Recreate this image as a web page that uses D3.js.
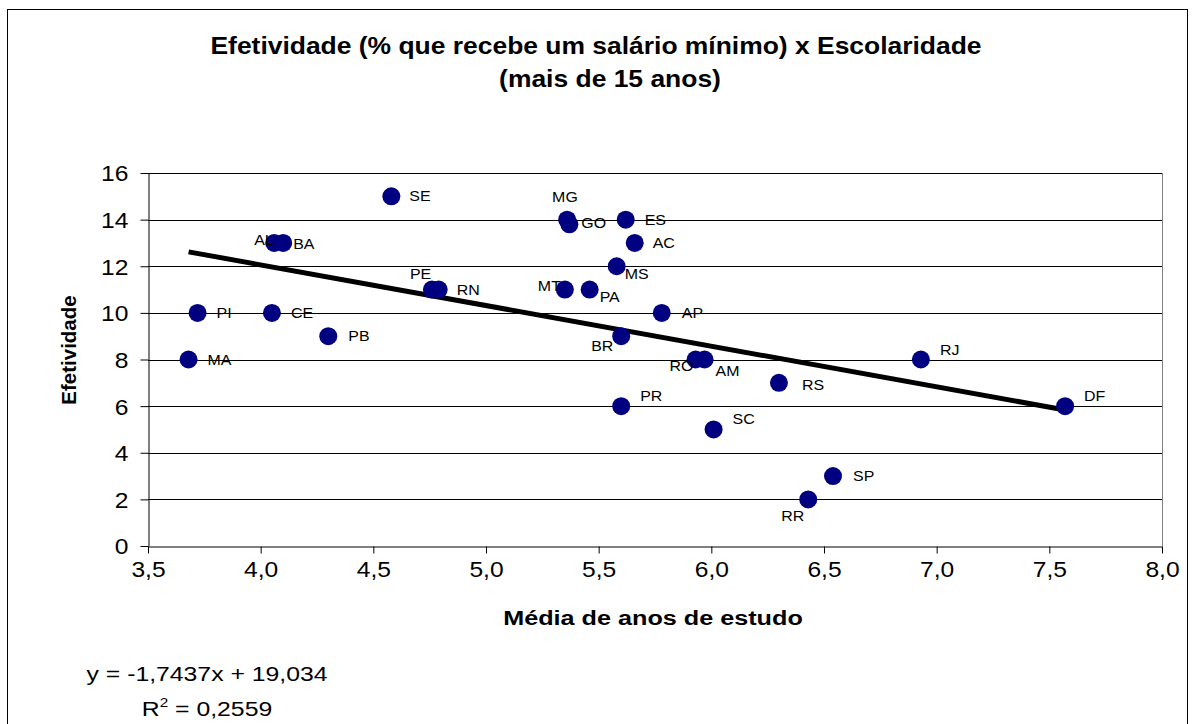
<!DOCTYPE html>
<html>
<head>
<meta charset="utf-8">
<script src="https://cdn.jsdelivr.net/npm/d3@7"></script>
<style>
  body { margin: 0; background: #fff; }
  svg text { font-family: Arial, "Liberation Sans", sans-serif; fill: #000; }
</style>
</head>
<body>
<div id="chart"></div>
<script>
// efetividade x escolaridade, por UF

const states = ["MA", "PI", "AL", "BA", "CE", "PB", "SE", "PE", "RN", "MG", "GO", "ES", "AC", "MS",
    "MT", "PA", "AP", "BR", "RO", "AM", "RS", "PR", "SC", "SP", "RR", "RJ", "DF"];
const anosEstudo = [3.68, 3.72, 4.06, 4.10, 4.05, 4.30, 4.58, 4.76, 4.79, 5.36, 5.37, 5.62, 5.66, 5.58,
    5.35, 5.46, 5.78, 5.60, 5.93, 5.97, 6.30, 5.60, 6.01, 6.54, 6.43, 6.93, 7.57];
const efetividade = [8, 10, 13, 13, 10, 9, 15, 11, 11, 14, 13.8, 14, 13, 12,
    11, 11, 10, 9, 8, 8, 7, 6, 5, 3, 2, 8, 6];

const xTicks = [3.5, 4.0, 4.5, 5.0, 5.5, 6.0, 6.5, 7.0, 7.5, 8.0];
const yTicks = [0, 2, 4, 6, 8, 10, 12, 14, 16];

// linha de tendencia (linear) do excel
const trendSlope = -1.7437;
const trendIntercept = 19.034;
const equationLines = ["y = -1,7437x + 19,034", "R2 = 0,2559"];

const titleLines = ["Efetividade (% que recebe um salário mínimo) x Escolaridade", "(mais de 15 anos)"];

// where each data label sits relative to its marker (dx, dy)
const labelPos = {
    MA: [19, 0], PI: [19, 0], AL: [-20, -3], BA: [10, 1], CE: [19, 0], PB: [20, 0], SE: [18, 0],
    PE: [-22, -16], RN: [18, 0], MG: [-15, -23], GO: [12, -1], ES: [19, 0], AC: [18, 0],
    MS: [8, 8], MT: [-27, -4], PA: [10, 7], AP: [20, 0], BR: [-30, 10], RO: [-26, 6],
    AM: [11, 11], RS: [23, 2], PR: [19, -10], SC: [19, -10], SP: [20, 0], RR: [-27, 17],
    RJ: [19, -10], DF: [19, -10]
};

const data = states.map((s, i) => ({ uf: s, x: anosEstudo[i], y: efetividade[i] }));

const W = 1195, H = 724;
const plot = { left: 148, right: 1162, top: 173, bottom: 546 };

const svg = d3.select("#chart").append("svg")
    .attr("width", W)
    .attr("height", H);

// outer chart border
svg.append("rect")
    .attr("x", 7.5).attr("y", 9.5)
    .attr("width", 1180).attr("height", 730)
    .attr("fill", "#fff")
    .attr("stroke", "#000")
    .attr("stroke-width", 1);

const xScale = d3.scaleLinear().domain([3.5, 8]).range([plot.left, plot.right]);
const yScale = d3.scaleLinear().domain([0, 16]).range([plot.bottom, plot.top]);

const ptBR = d3.formatLocale({ decimal: ",", thousands: ".", grouping: [3], currency: ["R$", ""] });

// gridlines
svg.append("g")
    .selectAll("line")
    .data(yTicks.filter(d => d > 0))
    .enter()
    .append("line")
    .attr("x1", plot.left).attr("x2", plot.right)
    .attr("y1", d => Math.round(yScale(d)) + 0.5)
    .attr("y2", d => Math.round(yScale(d)) + 0.5)
    .attr("stroke", "#000")
    .attr("stroke-width", 1);

// right border of plot area
svg.append("line")
    .attr("x1", plot.right + 0.5).attr("x2", plot.right + 0.5)
    .attr("y1", plot.top).attr("y2", plot.bottom)
    .attr("stroke", "#808080");

// axes
const xAxis = svg.append("g")
    .attr("transform", "translate(0," + (plot.bottom + 0.5) + ")")
    .call(d3.axisBottom(xScale).tickValues(xTicks).tickSize(7).tickSizeOuter(0)
        .tickFormat(ptBR.format(".1f")));

const yAxis = svg.append("g")
    .attr("transform", "translate(" + (plot.left + 0.5) + ",0)")
    .call(d3.axisLeft(yScale).tickValues(yTicks).tickSize(8).tickSizeOuter(0));

[xAxis, yAxis].forEach(function (ax) {
    ax.select(".domain").attr("stroke", "#000");
    ax.selectAll(".tick line").attr("stroke", "#000");
    ax.selectAll(".tick text")
        .style("font-family", "Arial, 'Liberation Sans', sans-serif")
        .style("font-size", "22px")
        .attr("fill", "#000");
});
xAxis.selectAll(".tick text").attr("y", 15).attr("dy", "0.71em")
    .attr("transform", "scale(1.12,1)");
yAxis.selectAll(".tick text").attr("x", -18).attr("dy", "0.36em")
    .attr("transform", "scale(1.12,1)");

// trendline over the data range
const xExt = d3.extent(data, d => d.x);
svg.append("line")
    .attr("x1", xScale(xExt[0]))
    .attr("y1", yScale(trendSlope * xExt[0] + trendIntercept))
    .attr("x2", xScale(xExt[1]))
    .attr("y2", yScale(trendSlope * xExt[1] + trendIntercept))
    .attr("stroke", "#000")
    .attr("stroke-width", 5);

// markers
svg.append("g")
    .selectAll("circle")
    .data(data)
    .enter()
    .append("circle")
    .attr("cx", d => xScale(d.x))
    .attr("cy", d => yScale(d.y))
    .attr("r", 9)
    .attr("fill", "#000080");

// data labels
svg.append("g")
    .selectAll("text")
    .data(data)
    .enter()
    .append("text")
    .attr("transform", d => "translate(" + (xScale(d.x) + labelPos[d.uf][0]) + "," +
        (yScale(d.y) + labelPos[d.uf][1] + 5) + ") scale(1.1,1)")
    .style("font-size", "14.5px")
    .text(d => d.uf);

// title
const titleX = [596, 610];
svg.append("g")
    .selectAll("text")
    .data(titleLines)
    .enter()
    .append("text")
    .attr("transform", (d, i) => "translate(" + titleX[i] + "," + (54 + i * 33) + ") scale(1.15,1)")
    .attr("text-anchor", "middle")
    .style("font-size", "23px")
    .style("font-weight", "bold")
    .text(d => d);

// axis titles
svg.append("text")
    .attr("transform", "translate(653,625) scale(1.2,1)")
    .attr("text-anchor", "middle")
    .style("font-size", "21px")
    .style("font-weight", "bold")
    .text("Média de anos de estudo");

svg.append("text")
    .attr("transform", "translate(76,350) rotate(-90)")
    .attr("text-anchor", "middle")
    .style("font-size", "20.5px")
    .style("font-weight", "bold")
    .text("Efetividade");

// equation + R2
const eq = svg.append("g");
eq.append("text")
    .attr("transform", "translate(207,681) scale(1.18,1)")
    .attr("text-anchor", "middle")
    .style("font-size", "21px")
    .text(equationLines[0]);

const r2 = eq.append("text")
    .attr("transform", "translate(207,716) scale(1.18,1)")
    .attr("text-anchor", "middle")
    .style("font-size", "21px");
r2.append("tspan").text("R");
r2.append("tspan").attr("dy", -9).style("font-size", "13px").text("2");
r2.append("tspan").attr("dy", 9).text(equationLines[1].slice(2));
</script>
</body>
</html>
